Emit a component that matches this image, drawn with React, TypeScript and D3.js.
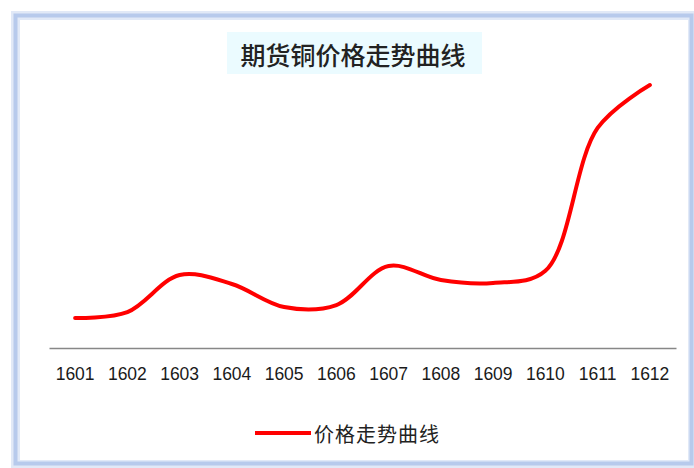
import React, { useEffect, useRef } from "react";
import * as d3 from "d3";

// DATA
const months = ["1601", "1602", "1603", "1604", "1605", "1606", "1607", "1608", "1609", "1610", "1611", "1612"];
const prices = [35370, 35640, 37330, 36920, 35870, 35960, 37740, 37100, 36970, 37520, 44040, 46000];
const chartTitle = "期货铜价格走势曲线";
const seriesName = "价格走势曲线";

export default function App() {
  const ref = useRef<SVGSVGElement | null>(null);

  useEffect(() => {
    document.body.style.margin = "0";
    const svg = d3.select(ref.current);
    svg.selectAll("*").remove();

    const width = 694;
    const height = 468;

    // FRAME
    svg.append("rect").attr("width", width).attr("height", height).attr("fill", "#ffffff");
    svg
      .append("rect")
      .attr("x", 16.5)
      .attr("y", 16.5)
      .attr("width", 674)
      .attr("height", 446)
      .attr("fill", "none")
      .attr("stroke", "#e1e9f7")
      .attr("stroke-width", 11);
    svg
      .append("rect")
      .attr("x", 15.5)
      .attr("y", 15.5)
      .attr("width", 676)
      .attr("height", 448)
      .attr("fill", "none")
      .attr("stroke", "#b7caec")
      .attr("stroke-width", 4);
    svg
      .append("rect")
      .attr("x", 20)
      .attr("y", 20)
      .attr("width", 668)
      .attr("height", 440)
      .attr("fill", "#ffffff");

    // SCALES
    const xScale = d3.scaleBand().domain(months).range([49, 676]);
    const yScale = d3.scaleLinear().domain([34000, 46000]).range([348, 85]);

    // TITLE
    svg
      .append("rect")
      .attr("x", 227)
      .attr("y", 32)
      .attr("width", 255)
      .attr("height", 42)
      .attr("fill", "#ebfbff");
    svg
      .append("text")
      .attr("x", 353)
      .attr("y", 54)
      .attr("text-anchor", "middle")
      .attr("dominant-baseline", "central")
      .attr("font-family", "'Noto Sans CJK SC', sans-serif")
      .attr("font-size", 25)
      .attr("font-weight", 500)
      .attr("fill", "#222222")
      .text(chartTitle);

    // X AXIS
    const xAxis = svg
      .append("g")
      .attr("transform", "translate(0,348)")
      .call(d3.axisBottom(xScale).tickSize(0).tickPadding(20));
    xAxis.select(".domain").attr("stroke", "#878787").attr("stroke-width", 1.5);
    xAxis
      .selectAll("text")
      .attr("font-family", "'Liberation Sans', Arial, sans-serif")
      .attr("font-size", 17.5)
      .attr("fill", "#1a1a1a");

    // LINE
    const line = d3
      .line<number>()
      .x((d, i) => (xScale(months[i]) as number) + xScale.bandwidth() / 2)
      .y((d) => yScale(d))
      .curve(d3.curveCatmullRom.alpha(0.5));

    svg
      .append("path")
      .datum(prices)
      .attr("fill", "none")
      .attr("stroke", "#ff0000")
      .attr("stroke-width", 4)
      .attr("stroke-linecap", "round")
      .attr("d", line);

    // LEGEND
    svg
      .append("line")
      .attr("x1", 255)
      .attr("x2", 311)
      .attr("y1", 433)
      .attr("y2", 433)
      .attr("stroke", "#ff0000")
      .attr("stroke-width", 4);
    svg
      .append("text")
      .attr("x", 314)
      .attr("y", 433)
      .attr("dominant-baseline", "central")
      .attr("font-family", "'Noto Sans CJK SC', sans-serif")
      .attr("font-size", 20)
      .attr("letter-spacing", 1)
      .attr("fill", "#222222")
      .text(seriesName);
  }, []);

  return <svg ref={ref} width={694} height={468} style={{ display: "block" }} />;
}
